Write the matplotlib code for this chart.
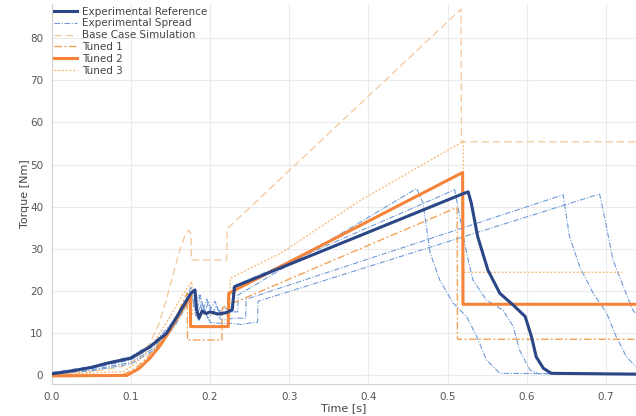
import matplotlib
matplotlib.use("Agg")
import matplotlib.pyplot as plt

# experimental reference
ref_t = [0, 0.02, 0.05, 0.07, 0.1, 0.124, 0.145, 0.158, 0.168, 0.176, 0.181, 0.183, 0.186, 0.19,
         0.195, 0.2, 0.21, 0.22, 0.228, 0.231, 0.52, 0.526, 0.530, 0.538,
         0.551, 0.566, 0.583, 0.598, 0.606, 0.612, 0.621, 0.631, 0.74]
ref_T = [0.3, 0.8, 1.8, 2.8, 4.0, 6.7, 9.9, 13.8, 17, 19.5, 20.2, 15.5, 13.5, 15.2,
         14.6, 15, 14.5, 14.8, 15.5, 21.0, 43.1, 43.5, 40.8, 32.9,
         24.9, 19.4, 16.6, 13.9, 9.1, 4.3, 1.6, 0.4, 0.2]

# experimental spread (4 runs)
spread_a_t = [0, 0.05, 0.1, 0.13, 0.155, 0.17, 0.176, 0.18, 0.186, 0.19, 0.196, 0.2, 0.206, 0.212,
              0.218, 0.228, 0.235, 0.2355, 0.461, 0.469, 0.478, 0.490, 0.507, 0.524, 0.537, 0.549,
              0.566, 0.74]
spread_a_T = [0.6, 2.0, 4.4, 7.8, 13, 18, 21, 16, 19, 15, 18, 15.5, 17.5, 15,
              16, 15, 15, 19, 44.3, 40.8, 29, 22.6, 17.1, 13.9, 9.1, 3.6,
              0.4, 0.2]
spread_b_t = [0, 0.05, 0.1, 0.13, 0.155, 0.172, 0.179, 0.183, 0.188, 0.193, 0.198, 0.203, 0.208,
              0.213, 0.22, 0.228, 0.2285, 0.509, 0.524, 0.532, 0.549, 0.570, 0.583, 0.591, 0.604,
              0.615, 0.74]
spread_b_T = [0.4, 1.5, 3.6, 7, 12.5, 18.5, 20, 15, 19, 14.5, 17.5, 14.5, 16.5,
              14, 15, 15, 21, 44, 29, 22.6, 17.8, 15.4, 11.5, 5.9, 1.2,
              0.3, 0.2]
spread_c_t = [0, 0.05, 0.1, 0.13, 0.155, 0.17, 0.177, 0.182, 0.19, 0.197, 0.205, 0.215, 0.23, 0.245,
              0.2455, 0.646, 0.654, 0.667, 0.684, 0.701, 0.713, 0.726, 0.738]
spread_c_T = [0.2, 1.2, 3.0, 6.5, 12, 17, 19, 14, 17, 13.5, 15, 13, 13.5, 13.5,
              18, 42.8, 32.9, 25.7, 19.4, 14.7, 9.1, 4.3, 2]
spread_d_t = [0, 0.05, 0.1, 0.13, 0.155, 0.172, 0.18, 0.186, 0.192, 0.2, 0.21, 0.225, 0.24, 0.255,
              0.26, 0.2605, 0.692, 0.699, 0.709, 0.722, 0.734, 0.745]
spread_d_T = [0.1, 1.0, 2.6, 6, 11.5, 17, 18, 13, 16, 12.5, 12.3, 12.3, 12, 12.5,
              12.5, 17.5, 43, 36.8, 27.3, 21, 15.4, 13]

# simulations
base_t = [0, 0.05, 0.09, 0.105, 0.116, 0.124, 0.135, 0.145, 0.155, 0.162, 0.168, 0.173, 0.176,
          0.1765, 0.221, 0.2215, 0.517, 0.5175, 0.74]
base_T = [0.2, 0.8, 2, 3.5, 5.9, 7.5, 12, 18, 25, 29.7, 33, 34.4, 33.5,
          27.3, 27.3, 34.7, 86.9, 55.4, 55.4]
tuned1_t = [0, 0.09, 0.105, 0.12, 0.135, 0.148, 0.16, 0.171, 0.1715, 0.215, 0.2155, 0.512,
            0.5125, 0.74]
tuned1_T = [0, 0.1, 1.5, 4, 7.5, 11, 15, 19.5, 8.3, 8.3, 16, 39.8,
            8.5, 8.5]
tuned2_t = [0, 0.095, 0.11, 0.124, 0.137, 0.149, 0.16, 0.168, 0.175, 0.1755, 0.223, 0.2235,
            0.519, 0.5195, 0.74]
tuned2_T = [-0.2, -0.1, 1.5, 4.0, 7, 10.5, 14, 16.5, 19, 11.5, 11.5, 19.4,
            48.1, 16.8, 16.8]
tuned3_t = [0, 0.09, 0.105, 0.12, 0.135, 0.15, 0.165, 0.177, 0.1775, 0.225, 0.2255, 0.29,
            0.39, 0.52, 0.5205, 0.721]
tuned3_T = [0.1, 0.8, 2.5, 5.5, 9.5, 14, 19, 22.2, 14.5, 14.5, 23, 29,
            41.5, 55.5, 24.4, 24.4]

navy = "#2a4687"
light_blue = "#6f9bd8"
peach = "#f3c79c"
orange1 = "#f19a48"
orange2 = "#f5843a"
orange3 = "#f8b56e"

fig = plt.figure(figsize=(6.36, 4.16), dpi=100)
ax = fig.add_axes([0.0813, 0.0776, 0.9187, 0.9125])

spreads = [(spread_a_t, spread_a_T), (spread_b_t, spread_b_T),
           (spread_c_t, spread_c_T), (spread_d_t, spread_d_T)]
for i, (st, sT) in enumerate(spreads):
    ax.plot(st, sT, color=light_blue, lw=0.8, dashes=(5, 1.5, 1, 1.5),
            label="Experimental Spread" if i == 0 else None, zorder=2)

ax.plot(base_t, base_T, color=peach, lw=0.9, dashes=(6, 3), label="Base Case Simulation", zorder=2)
ax.plot(tuned1_t, tuned1_T, color=orange1, lw=0.9, dashes=(6, 2, 1.5, 2), label="Tuned 1", zorder=3)
ax.plot(tuned2_t, tuned2_T, color=orange2, lw=2.2, label="Tuned 2", zorder=4)
ax.plot(tuned3_t, tuned3_T, color=orange3, lw=0.9, dashes=(1.5, 1.5), label="Tuned 3", zorder=3)
ax.plot(ref_t, ref_T, color=navy, lw=2.2, label="Experimental Reference", zorder=5)

ax.set_xlim(0, 0.738)
ax.set_ylim(-2.07, 88.1)
ax.set_xticks([0, 0.1, 0.2, 0.3, 0.4, 0.5, 0.6, 0.7])
ax.set_yticks(range(0, 90, 10))
ax.grid(True, color="#ebebeb", lw=0.8)
ax.set_axisbelow(True)
for s in ["top", "right"]:
    ax.spines[s].set_visible(False)
for s in ["left", "bottom"]:
    ax.spines[s].set_color("#d0d0d0")
ax.tick_params(length=0, labelsize=7.5, labelcolor="#555555", pad=6)
ax.set_xlabel("Time [s]", fontsize=8, color="#444444", labelpad=1)
ax.set_ylabel("Torque [Nm]", fontsize=8, color="#444444", labelpad=0)

handles, labels = ax.get_legend_handles_labels()
order = ["Experimental Reference", "Experimental Spread", "Base Case Simulation",
         "Tuned 1", "Tuned 2", "Tuned 3"]
hmap = dict(zip(labels, handles))
ax.legend([hmap[k] for k in order], order, loc="upper left", bbox_to_anchor=(0.0, 1.0),
          frameon=False, fontsize=7.5, handlelength=2.2, labelspacing=0.17,
          borderaxespad=0.0, borderpad=0.25, handletextpad=0.5, labelcolor="#444444")

fig.savefig("out.png", dpi=100)
